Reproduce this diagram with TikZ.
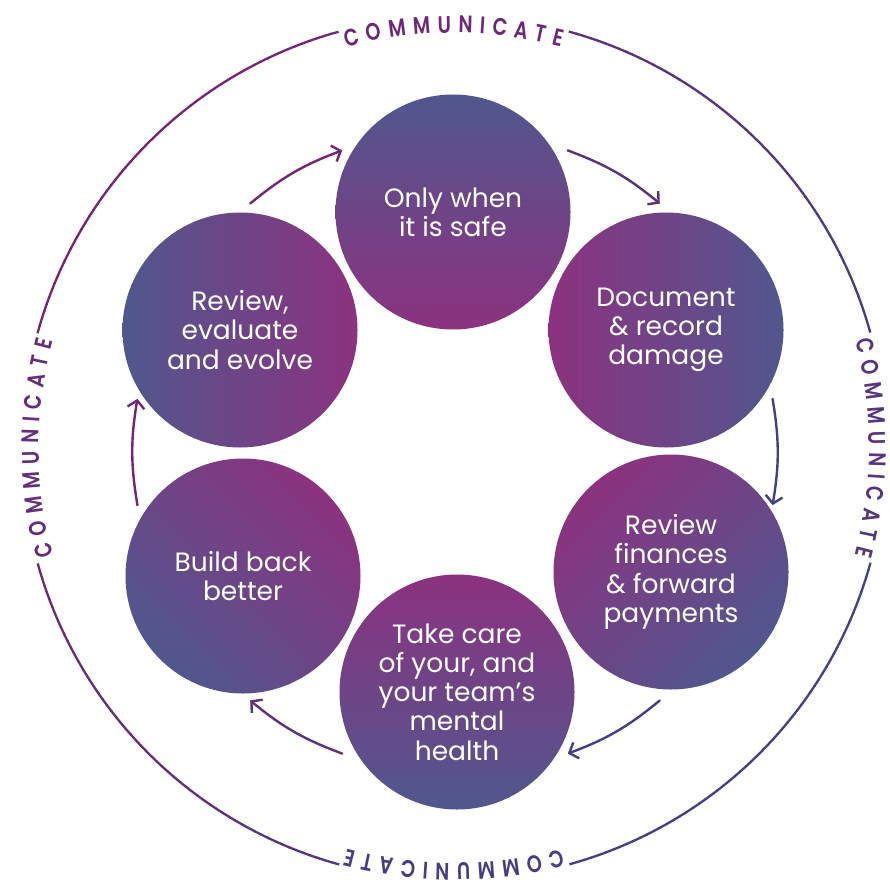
\documentclass[tikz,border=0pt]{standalone}
\usepackage{fontspec}
\usetikzlibrary{arrows.meta,decorations.text,calc}

\newfontfamily\stagefont{Poppins}
\newfontfamily\ringfont{Poppins}[FakeStretch=0.8,BoldFont={Poppins SemiBold}]

\definecolor{circM}{RGB}{140,50,128}
\definecolor{circI}{RGB}{80,87,141}
\definecolor{lineM}{RGB}{122,34,118}
\definecolor{lineI}{RGB}{62,66,136}

\tikzset{
  stage/.style={circle, minimum size=235pt, inner sep=0pt, align=center,
    text=white, font=\stagefont\fontsize{26.5}{29.3}\selectfont,
    top color=circI, bottom color=circM},
  flow/.style={line width=2.4pt, line cap=round,
    -{Straight Barb[length=7.5pt,width=17pt,line width=2.4pt]}},
  ring/.style={line width=2.3pt},
}

\begin{document}
\begin{tikzpicture}[x=1pt,y=1pt]
    \useasboundingbox (0,0) rectangle (889,-893);
    \coordinate (O) at (454,-448); % outer ring
    \coordinate (C) at (455,-452); % centre of the cycle

    % the six stages
    \node[stage, shading angle=0]    (safe)     at (453,-212) {Only when\\it is safe};
    \node[stage, shading angle=-90]  (damage)   at (666,-330) {Document\\\& record\\damage};
    \node[stage, shading angle=-135] (finances) at (671,-572) {Review\\finances\\\& forward\\payments};
    \node[stage, shading angle=180]  (care)     at (457,-692) {Take care\\of your, and\\your team’s\\mental\\health};
    \node[stage, shading angle=135]  (rebuild)  at (243,-576) {Build back\\better};
    \node[stage, shading angle=90]   (review)   at (240,-330) {Review,\\evaluate\\and evolve};

    % arrows between the stages
    \foreach \k/\p in {1/93,2/50,3/7,4/7,5/50,6/93} {
        \pgfmathsetmacro\a{180-60*\k}
        \coordinate (s\k) at ($(C)+(\a+9.5:322)$);
        \coordinate (e\k) at ($(C)+(\a-9.5:322)$);
        \draw[flow, lineM!\p!lineI] (s\k) to[bend left=9.5] (e\k);
    }

    % outer ring, broken at the four labels
    \foreach \s in {15.5,105.5,195.5,285.5} {
        \foreach \i in {0,...,58} {
            \pgfmathsetmacro\p{50+50*cos(\s+\i-150)}
            \draw[ring, lineM!\p!lineI] ($(O)+(\s+\i:432)$) arc[start angle=\s+\i, end angle=\s+\i+1.1, radius=432];
        }
    }

    % ring labels
    \foreach \a/\p in {90/80,0/40,270/20,180/65} {
        \path[decorate, decoration={text along path, text align=center, text color=lineM!\p!lineI,
            text={|\ringfont\bfseries\fontsize{24}{24}\selectfont\fontdimen2\font=7pt|C O M M U N I C A T E}}]
            ($(O)+(\a+40:415)$) arc[start angle=\a+40, end angle=\a-40, radius=415];
    }
\end{tikzpicture}
\end{document}
